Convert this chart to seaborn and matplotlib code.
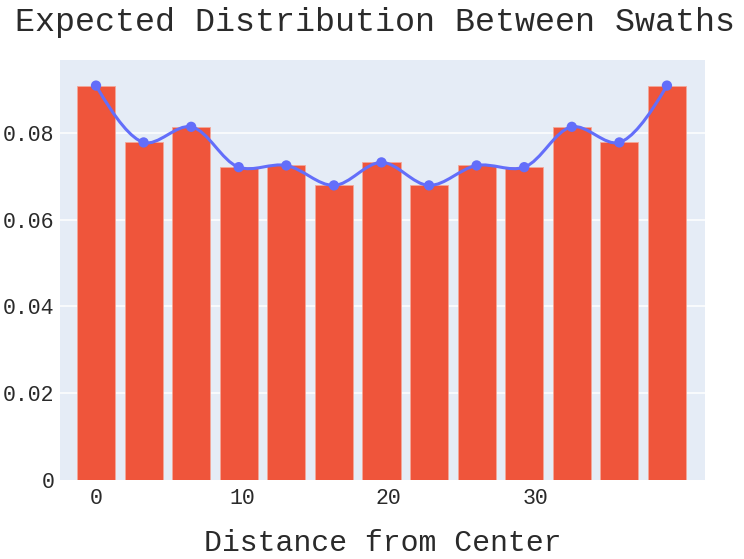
import numpy as np
import pandas as pd
import matplotlib
matplotlib.use("Agg")
import matplotlib.pyplot as plt
from matplotlib.path import Path
from matplotlib.patches import PathPatch
import seaborn as sns

# swath centres and expected share per swath
distance = [0, 3.25, 6.5, 9.75, 13, 16.25, 19.5, 22.75, 26, 29.25, 32.5, 35.75, 39]
share = [0.0909, 0.0778, 0.0814, 0.0721, 0.0725, 0.0679, 0.0732,
         0.0679, 0.0725, 0.0721, 0.0814, 0.0778, 0.0909]
y_ticks = [0, 0.02, 0.04, 0.06, 0.08]
y_tick_labels = ["0", "0.02", "0.04", "0.06", "0.08"]
x_ticks = [0, 10, 20, 30]
x_tick_labels = ["0", "10", "20", "30"]

df = pd.DataFrame({"distance": distance, "share": share})

sns.set_theme(style="white")
plt.rcParams["font.family"] = ["Liberation Mono", "DejaVu Sans Mono"]

fig = plt.figure(figsize=(7.44, 5.59), dpi=100)
ax = fig.add_axes([60 / 744, 79 / 559, 645 / 744, 420 / 559])
ax.set_facecolor("#E5ECF6")

xlim = (-2.46, 41.6)
ylim = (0, 0.0968)
ax.set_xlim(*xlim)
ax.set_ylim(*ylim)

for t in y_ticks[1:]:
    ax.axhline(t, color="white", lw=1.1, zorder=0)

sns.barplot(data=df, x="distance", y="share", native_scale=True, width=0.8,
            color="#EF553B", saturation=1, edgecolor="#F3A89A", linewidth=0.6,
            ax=ax, zorder=2)
ax.set_xlim(*xlim)
ax.set_ylim(*ylim)

# plotly-style spline through the points (computed in pixel space)
sx = 645 / (xlim[1] - xlim[0])
sy = 420 / (ylim[1] - ylim[0])
pts = np.column_stack([np.array(distance) * sx, np.array(share) * sy])


def tangent(p0, p1, p2, smooth=1.0):
    d1 = p0 - p1
    d2 = p2 - p1
    d1a = np.hypot(*d1) ** 0.5
    d2a = np.hypot(*d2) ** 0.5
    num = (d2a * d2a * d1 - d1a * d1a * d2) * smooth
    den1 = 3 * d2a * (d1a + d2a)
    den2 = 3 * d1a * (d1a + d2a)
    return p1 + num / den1, p1 - num / den2


tans = [tangent(pts[i - 1], pts[i], pts[i + 1]) for i in range(1, len(pts) - 1)]
verts = [pts[0], tans[0][0], pts[1]]
codes = [Path.MOVETO, Path.CURVE3, Path.CURVE3]
for i in range(2, len(pts) - 1):
    verts += [tans[i - 2][1], tans[i - 1][0], pts[i]]
    codes += [Path.CURVE4] * 3
verts += [tans[-1][1], pts[-1]]
codes += [Path.CURVE3] * 2
verts = np.array(verts) / np.array([sx, sy])
ax.add_patch(PathPatch(Path(verts, codes), fill=False, edgecolor="#636EFA",
                       lw=2.2, zorder=3, capstyle="round", joinstyle="round"))

sns.scatterplot(data=df, x="distance", y="share", color="#636EFA", s=55,
                edgecolor="none", ax=ax, zorder=4)

ax.set_xticks(x_ticks)
ax.set_xticklabels(x_tick_labels)
ax.set_yticks(y_ticks)
ax.set_yticklabels(y_tick_labels)
ax.tick_params(axis="both", length=0, labelsize=15.5, colors="#2a2a2a")
ax.tick_params(axis="x", pad=6)
ax.tick_params(axis="y", pad=4)
for s in ax.spines.values():
    s.set_visible(False)

ax.set_xlabel("Distance from Center", fontsize=21.5, color="#2a2a2a", labelpad=14)
ax.set_ylabel("")
fig.text(375 / 744, 1 - 22 / 559, "Expected Distribution Between Swaths",
         ha="center", va="center", fontsize=24, color="#2a2a2a")

fig.savefig("out.png", dpi=100)
